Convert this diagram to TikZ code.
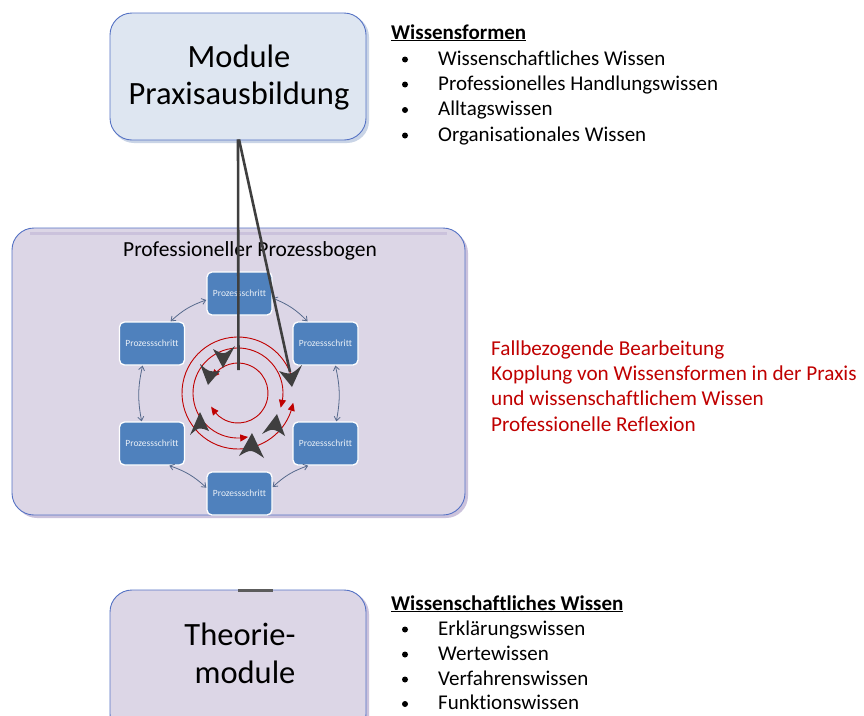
\documentclass[tikz,border=0pt]{standalone}
\usepackage{fontspec}
\setmainfont{Carlito}[Ligatures=NoCommon]
\usetikzlibrary{arrows.meta,bending}
\definecolor{lav}{HTML}{DCD6E6}
\definecolor{lavd}{HTML}{CBC2DC}
\definecolor{modfill}{HTML}{DEE6F1}
\definecolor{modsh}{HTML}{C9D4E6}
\definecolor{bord}{HTML}{5572C4}
\definecolor{pblue}{HTML}{4F81BD}
\definecolor{redc}{HTML}{C00000}
\definecolor{connc}{HTML}{56698C}
\definecolor{darkc}{HTML}{3F3F3F}
\tikzset{
  bigbox/.style={draw=bord, line width=0.9pt, rounded corners=22pt, inner sep=0pt},
  stepbox/.style={rectangle, rounded corners=5pt, fill=pblue, draw=white, line width=1.3pt,
    minimum width=65pt, minimum height=43pt, inner sep=0pt, text=white!88!pblue,
    font=\fontsize{9.5}{11}\selectfont},
  conn/.style={draw=connc, line width=0.8pt, {Straight Barb[length=4pt,width=6pt]}-{Straight Barb[length=4pt,width=6pt]}},
  redarc/.style={draw=redc, line width=0.9pt, {Triangle[length=8pt,width=7pt,bend]}-{Triangle[length=8pt,width=7pt,bend]}},
  blackline/.style={draw=darkc, line width=2.6pt},
  bigtext/.style={font=\fontsize{32.5}{38}\selectfont, anchor=base, inner sep=0pt},
  listtext/.style={font=\fontsize{21}{25}\selectfont, anchor=base west, inner sep=0pt},
  listhead/.style={font=\fontsize{21}{25}\selectfont\bfseries, anchor=base west, inner sep=0pt},
  redtext/.style={font=\fontsize{21.2}{25}\selectfont, anchor=base west, inner sep=0pt, text=redc},
  bul/.style={fill=black},
  tri/.style={fill=darkc}
}
\begin{document}
\begin{tikzpicture}[x=1pt,y=-1pt]
\clip (0,0) rectangle (864,715);
\fill[white] (0,0) rectangle (864,715);

% Module Praxisausbildung
\fill[modsh, rounded corners=22pt] (112,15) rectangle (369,143);
\node[bigbox, fill=modfill, minimum width=256pt, minimum height=127pt] (mod) at (238,76.5) {};
\node[bigtext] (modA) at (239,67) {Module};
\node[bigtext] (modB) at (239,104) {Praxisausbildung};

% Wissensformen list
\node[listhead] (wfh) at (391,39) {\underline{Wissensformen}};
\node[listtext] (wf1) at (438,65) {Wissenschaftliches Wissen};
\node[listtext] (wf2) at (438,90) {Professionelles Handlungswissen};
\node[listtext] (wf3) at (438,115.5) {Alltagswissen};
\node[listtext] (wf4) at (438,141) {Organisationales Wissen};
\foreach \yy in {59.5,84.5,110,135.5} \fill[bul] (405,\yy) circle (3pt);

% Professioneller Prozessbogen
\fill[lavd, rounded corners=22pt] (15,231) rectangle (468,518);
\node[bigbox, fill=lav, minimum width=453pt, minimum height=287pt] (pb) at (238.5,371.5) {};
\draw[lavd, line width=2.5pt] (30,233.5) -- (447,233.5);
\node[font=\fontsize{21.5}{25}\selectfont, anchor=base, inner sep=0pt] (pbt) at (250,256) {Professioneller Prozessbogen};

% process steps
\node[stepbox] (p1) at (239.5,293.5) {Prozessschritt};
\node[stepbox] (p2) at (325.5,343.5) {Prozessschritt};
\node[stepbox] (p3) at (325.5,443.5) {Prozessschritt};
\node[stepbox] (p4) at (239.5,493.5) {Prozessschritt};
\node[stepbox] (p5) at (152,443.5) {Prozessschritt};
\node[stepbox] (p6) at (152,343.5) {Prozessschritt};

\draw[conn] (p1.191) to[bend right=12] (p6.50);
\draw[conn] (p1.-8) to[bend left=12] (p2.129);
\draw[conn] (p6.-113) to[bend right=12] (p5.115);
\draw[conn] (p2.-66) to[bend left=12] (p3.64);
\draw[conn] (p5.-52) to[bend left=12] (p4.170);
\draw[conn] (p3.-128) to[bend right=12] (p4.11);

% red circular arcs
\coordinate (cc) at (238,393);
\draw[redarc] (cc) ++(10:56) arc[start angle=10, end angle=349, radius=56];
\draw[redarc] (cc) ++(77:45) arc[start angle=77, end angle=379, radius=45];
\draw[redarc] (cc) ++(210:30) arc[start angle=210, end angle=513, radius=30];

% grey arrow heads
\fill[tri] (213,349) .. controls (224,355) .. (235,346) -- (223,368) -- cycle;
\fill[tri] (200,364) .. controls (209,372) .. (220,371) -- (208,385) -- cycle;
\fill[tri] (190,435) .. controls (199,427) .. (209,431) -- (200,412) -- cycle;
\fill[tri] (239,456) .. controls (251,449) .. (264,458) -- (252,433) -- cycle;
\fill[tri] (262,434) .. controls (273,428) .. (285,436) -- (277,414) -- cycle;

% black connectors from Module box
\coordinate (vend) at (238.5,370);
\coordinate (dend) at (290,372);
\draw[blackline] (mod.south) ++(0,-1) -- (vend);
\draw[blackline] (mod.south) ++(1,-1) -- (dend);
\fill[tri] (279,371) .. controls (291,375) .. (302,365) -- (292,387) -- cycle;

% red text
\node[redtext] (r1) at (491,355) {Fallbezogende Bearbeitung};
\node[redtext] (r2) at (491,380) {Kopplung von Wissensformen in der Praxis};
\node[redtext] (r3) at (491,405.5) {und wissenschaftlichem Wissen};
\node[redtext] (r4) at (491,431) {Professionelle Reflexion};

% Theoriemodule
\fill[lavd, rounded corners=22pt] (112,592) rectangle (369,740);
\node[bigbox, fill=lav, minimum width=256pt, minimum height=146pt] (th) at (238,663) {};
\draw[darkc!85, line width=2.5pt] (238,590.5) -- (273,590.5);
\node[bigtext] (thA) at (240,645) {Theorie-};
\node[bigtext] (thB) at (245,683) {module};

% Wissenschaftliches Wissen list
\node[listhead] (wwh) at (391,610) {\underline{Wissenschaftliches Wissen}};
\node[listtext] (ww1) at (438,635) {Erklärungswissen};
\node[listtext] (ww2) at (438,660) {Wertewissen};
\node[listtext] (ww3) at (438,685) {Verfahrenswissen};
\node[listtext] (ww4) at (438,709.5) {Funktionswissen};
\foreach \yy in {629.5,654.5,679.5,704} \fill[bul] (405,\yy) circle (3pt);
\end{tikzpicture}
\end{document}
